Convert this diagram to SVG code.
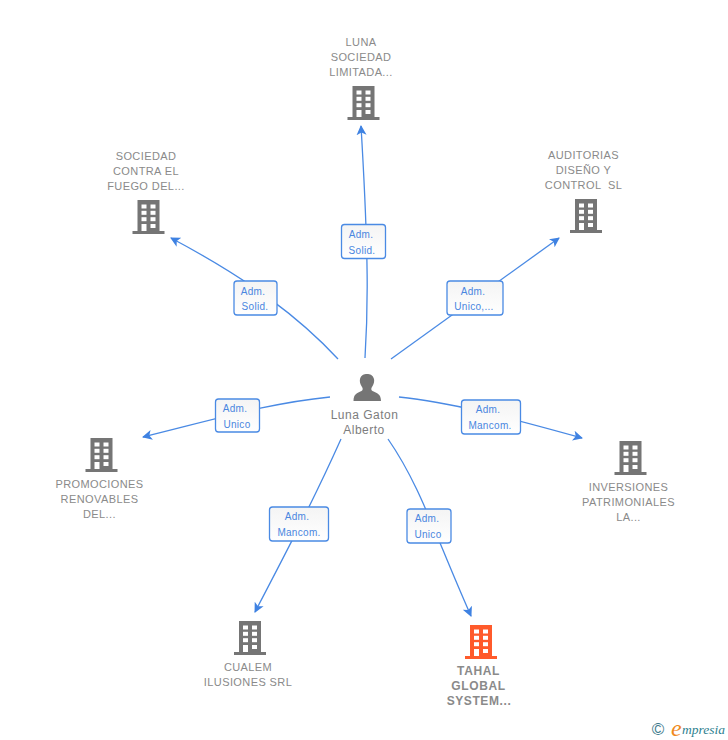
<svg xmlns="http://www.w3.org/2000/svg" xmlns:xlink="http://www.w3.org/1999/xlink" width="728" height="740" viewBox="0 0 728 740">
<style>
text{font-family:"Liberation Sans",Arial,sans-serif}
.n{font-size:11px;fill:#8a8a8a;text-anchor:middle;letter-spacing:.4px}
.c{font-size:12px;fill:#7d7d7d;text-anchor:middle;letter-spacing:.5px}
.t{font-size:12px;font-weight:bold;fill:#8a8a8a;text-anchor:middle;letter-spacing:.6px}
.l{font-size:10px;fill:#4a86e0;text-anchor:middle;letter-spacing:.3px}
.b{fill:url(#g);stroke:#4a8ae4;stroke-width:1.3}
.e{fill:none;stroke:#4a8ae4;stroke-width:1.3;marker-end:url(#a)}
.w{fill:#fff}
</style>
<defs>
<linearGradient id="g" x1="0" y1="0" x2="0" y2="1"><stop offset="0" stop-color="#f4f4f4"/><stop offset="1" stop-color="#fff"/></linearGradient>
<marker id="a" markerUnits="userSpaceOnUse" markerWidth="12" markerHeight="12" refX="9" refY="5" orient="auto"><path d="M0 0L10 5L0 10L2.500 5Z" fill="#3f82e2"/></marker>
<g id="bld">
<path d="M5 0H27V31H32V34H0V31H5Z"/>
<g class="w">
<rect x="9" y="4.500" width="5" height="4"/><rect x="18" y="4.500" width="5" height="4"/>
<rect x="9" y="10.800" width="5" height="4"/><rect x="18" y="10.800" width="5" height="4"/>
<rect x="9" y="17.200" width="5" height="4"/><rect x="18" y="17.200" width="5" height="4"/>
<rect x="9" y="24" width="5" height="7"/><rect x="18" y="24" width="5" height="4"/>
</g>
</g>
</defs>
<rect width="728" height="740" fill="#fff"/>
<g id="connectors">
<path class="e" d="M365 358C368 310 369 260 361 126"/>
<path class="e" d="M338 359C300 318 250 280 171 238"/>
<path class="e" d="M391 359L559 238"/>
<path class="e" d="M330 397C270 403 220 418 143 437"/>
<path class="e" d="M399 397C450 402 510 418 582 438"/>
<path class="e" d="M341 439C315 497 290 545 255 612"/>
<path class="e" d="M388 439C420 485 435 535 471 616"/>
</g>
<g id="edge-labels">
<g><rect class="b" x="341.500" y="224.500" width="44" height="34" rx="3"/><text class="l" x="361" y="238">Adm.</text><text class="l" x="362" y="253.500">Solid.</text></g>
<g><rect class="b" x="234" y="281" width="43" height="34" rx="3"/><text class="l" x="253" y="295">Adm.</text><text class="l" x="255" y="309.500">Solid.</text></g>
<g><rect class="b" x="447" y="281" width="56" height="34" rx="3"/><text class="l" x="473" y="295">Adm.</text><text class="l" x="474" y="309.500">Unico,...</text></g>
<g><rect class="b" x="215.500" y="399" width="44" height="33" rx="3"/><text class="l" x="235" y="412">Adm.</text><text class="l" x="237" y="427.500">Unico</text></g>
<g><rect class="b" x="461.500" y="400" width="59" height="34" rx="3"/><text class="l" x="488" y="413">Adm.</text><text class="l" x="490" y="428.500">Mancom.</text></g>
<g><rect class="b" x="269.500" y="507" width="59" height="34" rx="3"/><text class="l" x="297" y="520">Adm.</text><text class="l" x="299" y="535.500">Mancom.</text></g>
<g><rect class="b" x="407" y="509" width="44" height="34" rx="3"/><text class="l" x="427" y="522">Adm.</text><text class="l" x="428" y="537.500">Unico</text></g>
</g>
<g id="person">
<path fill="#757575" d="M353.500 401C353.500 394 357 393 361.500 391C363 390 363 388.500 362 387C360 384 359.500 381 360 379C361 375 364 374 367 374C370 374 373 375 374 379C374.500 381 374 384 372 387C371 388.500 371 390 372.500 391C377 393 381 394 381 401Z"/>
<text class="c" x="364.500" y="419">Luna Gaton</text><text class="c" x="364" y="434">Alberto</text>
</g>
<g id="n1" fill="#757575"><use href="#bld" x="347.500" y="86"/><text class="n" x="361" y="46">LUNA</text><text class="n" x="361" y="61">SOCIEDAD</text><text class="n" x="361" y="76">LIMITADA...</text></g>
<g id="n2" fill="#757575"><use href="#bld" x="132.500" y="200"/><text class="n" x="146" y="160">SOCIEDAD</text><text class="n" x="146" y="175">CONTRA EL</text><text class="n" x="146" y="190">FUEGO DEL...</text></g>
<g id="n3" fill="#757575"><use href="#bld" x="570" y="199"/><text class="n" x="583.500" y="159">AUDITORIAS</text><text class="n" x="583.500" y="174">DISEÑO Y</text><text class="n" x="583.500" y="189" xml:space="preserve">CONTROL  SL</text></g>
<g id="n4" fill="#757575"><use href="#bld" x="85.500" y="438"/><text class="n" x="99.500" y="488">PROMOCIONES</text><text class="n" x="99.500" y="503">RENOVABLES</text><text class="n" x="99.500" y="518">DEL...</text></g>
<g id="n5" fill="#757575"><use href="#bld" x="614.500" y="441"/><text class="n" x="628.500" y="491">INVERSIONES</text><text class="n" x="628.500" y="506">PATRIMONIALES</text><text class="n" x="628.500" y="521">LA...</text></g>
<g id="n6" fill="#757575"><use href="#bld" x="234" y="621"/><text class="n" x="248" y="671">CUALEM</text><text class="n" x="248" y="686">ILUSIONES SRL</text></g>
<g id="n7" fill="#ff5a2b"><use href="#bld" x="465" y="625"/><text class="t" x="478.500" y="675">TAHAL</text><text class="t" x="478.500" y="690">GLOBAL</text><text class="t" x="479" y="705">SYSTEM...</text></g>
<g id="brand">
<text x="658" y="735" font-size="17" fill="#3d7a8c" text-anchor="middle">©</text>
<text x="671" y="736" font-size="24" font-style="italic" fill="#f08a1d" style="font-family:'Liberation Serif',serif">e</text>
<text x="682" y="734" font-size="13.500" font-style="italic" fill="#2f7f8f" style="font-family:'Liberation Serif',serif">mpresia</text>
</g>
</svg>
